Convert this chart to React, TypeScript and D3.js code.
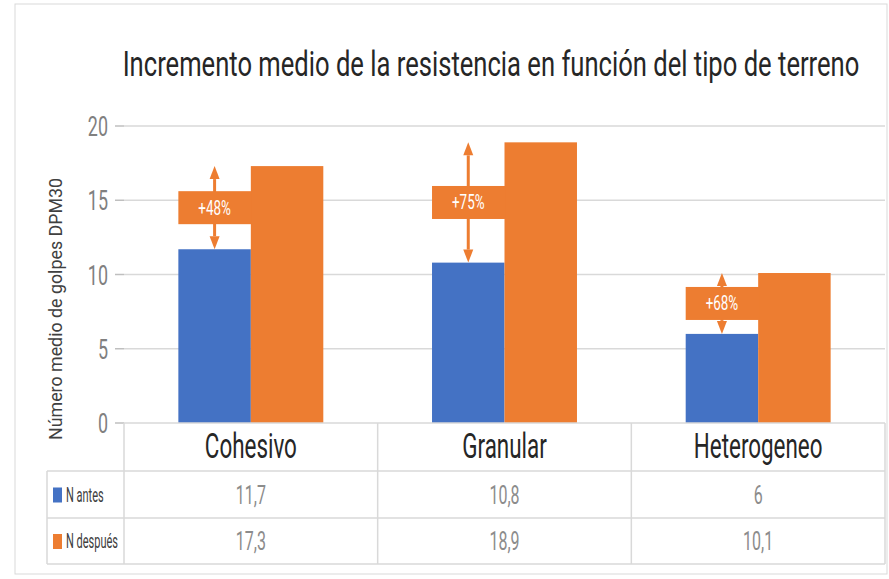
import React, { useLayoutEffect, useRef, useState } from "react";
import * as d3 from "d3";

// data
const categories = ["Cohesivo", "Granular", "Heterogeneo"];
const nAntes = [11.7, 10.8, 6];
const nDespues = [17.3, 18.9, 10.1];
const increments = ["+48%", "+75%", "+68%"];
const yTicks = [0, 5, 10, 15, 20];
const seriesNames = ["N antes", "N después"];

const BLUE = "#4472C4";
const ORANGE = "#ED7D31";
const GRID = "#d9d9d9";
const FONT = "Roboto, 'Noto Sans', sans-serif";
const SQUEEZE = 0.64;

const width = 889;
const height = 579;

const fmt = (v: number) => String(v).replace(".", ",");

// condensed text, squeezed horizontally like the source screenshot
const Cond = ({ x, y, size, fill, anchor = "middle", k = SQUEEZE, children }: any) => (
  <text
    transform={`translate(${x},${y}) scale(${k},1)`}
    fontSize={size}
    fill={fill}
    textAnchor={anchor}
    fontFamily={FONT}
  >
    {children}
  </text>
);

const App = () => {
  const titleRef = useRef<SVGTextElement>(null);
  const [titleK, setTitleK] = useState(SQUEEZE);

  // fit the title to the width it has in the reference
  useLayoutEffect(() => {
    if (!titleRef.current) return;
    const w = titleRef.current.getComputedTextLength();
    if (w > 0) setTitleK(737 / w);
  }, []);

  const y = d3.scaleLinear().domain([0, 20]).range([423, 126]);
  const x = d3.scaleBand().domain(categories).range([124, 885]).padding(0);
  const bw = x.bandwidth();
  const barW = bw / 3.5;
  const offset = (bw - 2 * barW) / 2;

  const tableTop = y(0);
  const row1 = 471;
  const row2 = 518;
  const tableBottom = 564;
  const legendLeft = 47;

  return (
    <svg
      width={width}
      height={height}
      style={{ position: "absolute", left: 0, top: 0, background: "#fff" }}
    >
      <rect x={15} y={4} width={872} height={570} fill="#fff" stroke={GRID} />

      <text
        ref={titleRef}
        transform={`translate(491,76) scale(${titleK},1)`}
        fontSize={36}
        fill="#262626"
        textAnchor="middle"
        fontFamily={FONT}
      >
        Incremento medio de la resistencia en función del tipo de terreno
      </text>

      {/* gridlines and y axis */}
      {yTicks.map(t => (
        <g key={t}>
          {t > 0 && <line x1={124} x2={885} y1={y(t)} y2={y(t)} stroke={GRID} strokeWidth={1.5} />}
          <line x1={115} x2={124} y1={y(t)} y2={y(t)} stroke="#bfbfbf" strokeWidth={1.5} />
          <Cond x={108} y={y(t) + 10} size={28} fill="#808080" anchor="end">
            {t}
          </Cond>
        </g>
      ))}

      <text
        transform={`translate(62,${(126 + 492) / 2}) rotate(-90)`}
        fontSize={19}
        fill="#404040"
        textAnchor="middle"
        fontFamily={FONT}
        textLength={262}
        lengthAdjust="spacingAndGlyphs"
      >
        Número medio de golpes DPM30
      </text>

      {/* bars */}
      {categories.map((c, i) => {
        const x0 = (x(c) as number) + offset;
        return (
          <g key={c}>
            <rect x={x0} y={y(nAntes[i])} width={barW} height={y(0) - y(nAntes[i])} fill={BLUE} />
            <rect x={x0 + barW} y={y(nDespues[i])} width={barW} height={y(0) - y(nDespues[i])} fill={ORANGE} />
          </g>
        );
      })}

      {/* increment annotations */}
      {categories.map((c, i) => {
        const x0 = (x(c) as number) + offset;
        const cx = x0 + barW / 2;
        const yTop = y(nDespues[i]);
        const yBot = y(nAntes[i]);
        const mid = (yTop + yBot) / 2;
        const boxH = 33;
        const head = 13;
        return (
          <g key={c}>
            <line x1={cx} x2={cx} y1={yTop + head} y2={yBot - head} stroke={ORANGE} strokeWidth={3} />
            <path d={`M${cx},${yTop} L${cx - 5},${yTop + head} L${cx + 5},${yTop + head} Z`} fill={ORANGE} />
            <path d={`M${cx},${yBot} L${cx - 5},${yBot - head} L${cx + 5},${yBot - head} Z`} fill={ORANGE} />
            <rect x={x0} y={mid - boxH / 2} width={barW + 1} height={boxH} fill={ORANGE} />
            <Cond x={cx} y={mid + 7} size={21} fill="#fff">
              {increments[i]}
            </Cond>
          </g>
        );
      })}

      {/* data table */}
      <g fill="none" stroke={GRID} strokeWidth={1.5}>
        <line x1={124} x2={885} y1={tableTop} y2={tableTop} />
        <line x1={legendLeft} x2={885} y1={row1} y2={row1} />
        <line x1={legendLeft} x2={885} y1={row2} y2={row2} />
        <line x1={legendLeft} x2={885} y1={tableBottom} y2={tableBottom} />
        <line x1={legendLeft} x2={legendLeft} y1={row1} y2={tableBottom} />
        {categories.map(c => (
          <line key={c} x1={x(c) as number} x2={x(c) as number} y1={tableTop} y2={tableBottom} />
        ))}
        <line x1={885} x2={885} y1={tableTop} y2={tableBottom} />
      </g>

      {categories.map((c, i) => {
        const cx = (x(c) as number) + bw / 2;
        return (
          <g key={c}>
            <Cond x={cx} y={458} size={35} fill="#262626">
              {c}
            </Cond>
            <Cond x={cx} y={(row1 + row2) / 2 + 9} size={25} fill="#8c8c8c">
              {fmt(nAntes[i])}
            </Cond>
            <Cond x={cx} y={(row2 + tableBottom) / 2 + 9} size={25} fill="#8c8c8c">
              {fmt(nDespues[i])}
            </Cond>
          </g>
        );
      })}

      {seriesNames.map((s, i) => {
        const top = i === 0 ? row1 : row2;
        const bot = i === 0 ? row2 : tableBottom;
        const cy = (top + bot) / 2;
        return (
          <g key={s}>
            <rect x={53} y={cy - 7} width={9} height={15} fill={i === 0 ? BLUE : ORANGE} />
            <Cond x={66} y={cy + 7} size={20} k={0.55} fill="#404040" anchor="start">
              {s}
            </Cond>
          </g>
        );
      })}
    </svg>
  );
};

export default App;
